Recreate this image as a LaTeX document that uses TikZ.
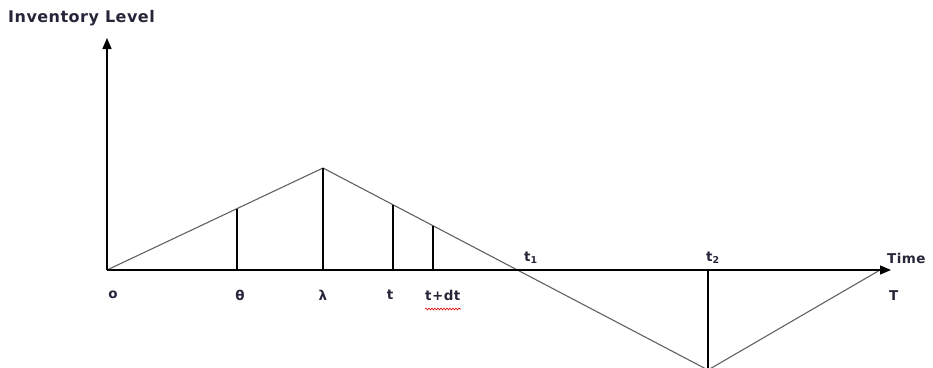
\documentclass[tikz,border=0pt]{standalone}
\usepackage{fontspec}
\setmainfont{DejaVu Sans}
\newfontfamily\lblfont[LetterSpace=3]{DejaVu Sans}
\usetikzlibrary{arrows.meta,decorations.pathmorphing}
\definecolor{txt}{RGB}{38,38,58}
\begin{document}
\begin{tikzpicture}[x=1pt,y=-1pt,
  axis/.style={line width=1.3pt,black,-{Triangle[length=11pt,width=9pt]}},
  slope/.style={line width=1.1pt,black!62},
  riser/.style={line width=1.4pt,black},
  lbl/.style={font=\lblfont\bfseries\fontsize{13.5}{15}\selectfont,text=txt,inner sep=0pt},
  ttl/.style={font=\lblfont\bfseries\fontsize{16}{18}\selectfont,text=txt,inner sep=0pt}]
\useasboundingbox (0,0) rectangle (933,367);
\begin{scope}
\clip (0,0) rectangle (933,367);
\coordinate (O) at (107,270);
\coordinate (Ytop) at (107,38);
\coordinate (Xend) at (891,270);
\coordinate (P) at (323,168);
\coordinate (Pb) at (323,270);
\coordinate (A) at (237,208.6);
\coordinate (Ab) at (237,270);
\coordinate (B) at (393,204.8);
\coordinate (Bb) at (393,270);
\coordinate (C) at (433,225.9);
\coordinate (Cb) at (433,270);
\coordinate (Q) at (708,370);
\coordinate (Qb) at (708,270);
\coordinate (R) at (880,270);
\draw[slope] (O) -- (P) -- (Q) -- (R);
\draw[riser] (A) -- (Ab);
\draw[riser] (P) -- (Pb);
\draw[riser] (B) -- (Bb);
\draw[riser] (C) -- (Cb);
\draw[riser] (Q) -- (Qb);
\draw[axis] (O) -- (Ytop);
\draw[axis] (O) -- (Xend);
\end{scope}
\node[ttl,anchor=west] (il) at (8,18) {Inventory Level};
\node[lbl] (lo) at (113,295) {o};
\node[lbl] (lth) at (240,295) {θ};
\node[lbl] (lla) at (323,295) {λ};
\node[lbl] (lt) at (390,295) {t};
\node[lbl,anchor=west] (ltdt) at (425,295) {t+dt};
\draw[red!85!black,line width=0.6pt,decorate,decoration={snake,amplitude=0.9pt,segment length=3pt}] (425,309) -- (461,309);
\node[lbl] (lt1) at (531,258) {t\textsubscript{1}};
\node[lbl] (lt2) at (713,258) {t\textsubscript{2}};
\node[lbl,anchor=west] (ltime) at (887,258) {Time};
\node[lbl,anchor=west] (lT) at (889,296) {T};
\end{tikzpicture}
\end{document}
